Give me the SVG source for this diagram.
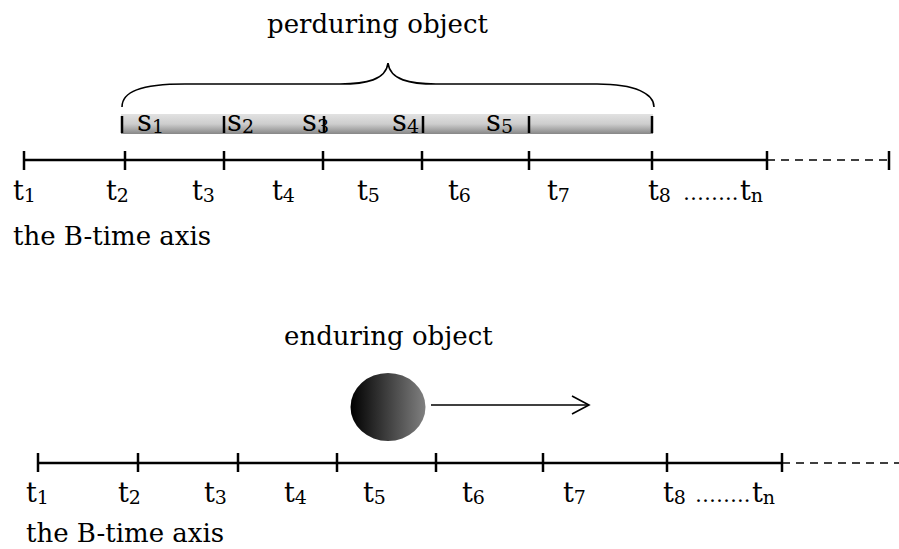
<svg xmlns="http://www.w3.org/2000/svg" width="899" height="549" viewBox="0 0 899 549">
<style>
text{font-family:"DejaVu Serif","Liberation Serif",serif;font-size:26px;fill:#000}
.t{font-size:27px}
.s{font-size:29px}
.sub{font-size:19px}
.dots{font-size:21px}
.axis{stroke:#000;stroke-width:2.5;fill:none}
.tick{stroke:#000;stroke-width:2.5}
.dash{stroke:#000;stroke-width:1.5;stroke-dasharray:8 6;fill:none}
.sep{stroke:#000;stroke-width:2.5}
.brace{stroke:#000;stroke-width:1.6;fill:none}
.arrow{stroke:#000;stroke-width:1.6;fill:none}
</style>
<defs>
<linearGradient id="barGrad" x1="0" y1="0" x2="0" y2="1">
<stop offset="0" stop-color="#e2e2e2"/>
<stop offset="0.5" stop-color="#cdcdcd"/>
<stop offset="1" stop-color="#878787"/>
</linearGradient>
<linearGradient id="ballGrad" x1="0" y1="0" x2="1" y2="0">
<stop offset="0" stop-color="#000"/>
<stop offset="1" stop-color="#808080"/>
</linearGradient>
<marker id="openArrow" markerUnits="userSpaceOnUse" markerWidth="24" markerHeight="24" refX="19" refY="10" orient="auto">
<polyline points="2,1 19,10 2,19" fill="none" stroke="#000" stroke-width="1.6"/>
</marker>
</defs>

<g id="perduring-object">
<text x="267" y="33">perduring object</text>
<path class="brace" d="M122,107 C122,92 140,84 185,84 L340,84 C366,84 386,80 388,63 C390,80 410,84 436,84 L597,84 C636,84 654,94 654,107"/>
<rect x="121" y="114" width="532" height="20" fill="url(#barGrad)"/>
<line class="sep" x1="122" y1="116" x2="122" y2="133"/>
<line class="sep" x1="224" y1="116" x2="224" y2="133"/>
<line class="sep" x1="324" y1="116" x2="324" y2="133"/>
<line class="sep" x1="423" y1="116" x2="423" y2="133"/>
<line class="sep" x1="529" y1="116" x2="529" y2="133"/>
<line class="sep" x1="652" y1="116" x2="652" y2="133"/>
<text class="s" x="137" y="131">s<tspan class="sub" dy="2">1</tspan></text>
<text class="s" x="227" y="131">s<tspan class="sub" dy="2">2</tspan></text>
<text class="s" x="302" y="131">s<tspan class="sub" dy="2">3</tspan></text>
<text class="s" x="392" y="131">s<tspan class="sub" dy="2">4</tspan></text>
<text class="s" x="486" y="131">s<tspan class="sub" dy="2">5</tspan></text>
</g>

<g id="top-axis">
<line class="axis" x1="24" y1="160" x2="767" y2="160"/>
<line class="dash" x1="767" y1="160" x2="889" y2="160"/>
<line class="tick" x1="24" y1="151" x2="24" y2="170"/>
<line class="tick" x1="125" y1="151" x2="125" y2="170"/>
<line class="tick" x1="224" y1="151" x2="224" y2="170"/>
<line class="tick" x1="323" y1="151" x2="323" y2="170"/>
<line class="tick" x1="422" y1="151" x2="422" y2="170"/>
<line class="tick" x1="529" y1="151" x2="529" y2="170"/>
<line class="tick" x1="652" y1="151" x2="652" y2="170"/>
<line class="tick" x1="767" y1="151" x2="767" y2="170"/>
<line class="tick" x1="889" y1="151" x2="889" y2="170"/>
<text class="t" x="13" y="200">t<tspan class="sub" dy="2">1</tspan></text>
<text class="t" x="106" y="200">t<tspan class="sub" dy="2">2</tspan></text>
<text class="t" x="192" y="200">t<tspan class="sub" dy="2">3</tspan></text>
<text class="t" x="272" y="200">t<tspan class="sub" dy="2">4</tspan></text>
<text class="t" x="357" y="200">t<tspan class="sub" dy="2">5</tspan></text>
<text class="t" x="448" y="200">t<tspan class="sub" dy="2">6</tspan></text>
<text class="t" x="547" y="200">t<tspan class="sub" dy="2">7</tspan></text>
<text class="t" x="648" y="200">t<tspan class="sub" dy="2">8</tspan></text>
<text class="t" x="683" y="200"><tspan class="dots">……..</tspan><tspan x="740">t</tspan><tspan class="sub" dy="2">n</tspan></text>
<text x="13" y="245">the B-time axis</text>
</g>

<g id="enduring-object">
<text x="284" y="345">enduring object</text>
<ellipse cx="388" cy="407" rx="37.5" ry="34" fill="url(#ballGrad)"/>
</g>

<g id="connectors">
<line class="arrow" x1="431" y1="405" x2="589" y2="405" marker-end="url(#openArrow)"/>
</g>

<g id="bottom-axis">
<line class="axis" x1="38" y1="463" x2="782" y2="463"/>
<line class="dash" x1="782" y1="463" x2="899" y2="463"/>
<line class="tick" x1="38" y1="453" x2="38" y2="472"/>
<line class="tick" x1="138" y1="453" x2="138" y2="472"/>
<line class="tick" x1="238" y1="453" x2="238" y2="472"/>
<line class="tick" x1="337" y1="453" x2="337" y2="472"/>
<line class="tick" x1="436" y1="453" x2="436" y2="472"/>
<line class="tick" x1="543" y1="453" x2="543" y2="472"/>
<line class="tick" x1="667" y1="453" x2="667" y2="472"/>
<line class="tick" x1="782" y1="453" x2="782" y2="472"/>
<text class="t" x="26" y="502">t<tspan class="sub" dy="2">1</tspan></text>
<text class="t" x="118" y="502">t<tspan class="sub" dy="2">2</tspan></text>
<text class="t" x="204" y="502">t<tspan class="sub" dy="2">3</tspan></text>
<text class="t" x="284" y="502">t<tspan class="sub" dy="2">4</tspan></text>
<text class="t" x="363" y="502">t<tspan class="sub" dy="2">5</tspan></text>
<text class="t" x="462" y="502">t<tspan class="sub" dy="2">6</tspan></text>
<text class="t" x="563" y="502">t<tspan class="sub" dy="2">7</tspan></text>
<text class="t" x="663" y="502">t<tspan class="sub" dy="2">8</tspan></text>
<text class="t" x="695" y="502"><tspan class="dots">……..</tspan><tspan x="752">t</tspan><tspan class="sub" dy="2">n</tspan></text>
<text x="26" y="542">the B-time axis</text>
</g>
</svg>
